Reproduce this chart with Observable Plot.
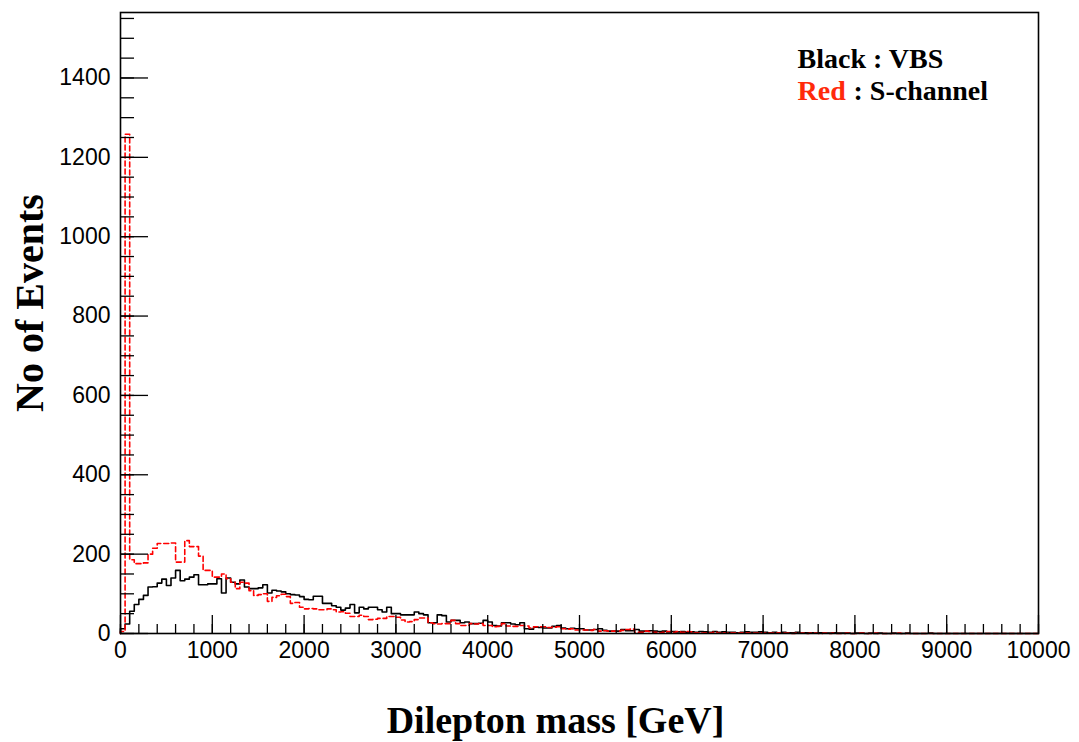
<!DOCTYPE html>
<html><head><meta charset="utf-8">
<script src="https://cdn.jsdelivr.net/npm/d3@7"></script>
<script src="https://cdn.jsdelivr.net/npm/@observablehq/plot@0.6"></script>
<style>html,body{margin:0;padding:0;background:#fff;}</style>
</head><body><div id="chart"></div>
<script>
// Histogram: 200 bins of 50 GeV from 0 to 10000 GeV
const binWidth = 50;
const vbs = [
  12,24,56,73,86,96,117,118,127,137,121,140,159,133,137,142,148,123,123,125,
  125,138,102,140,129,125,135,117,113,113,115,123,102,109,107,105,100,98,97,93,
  86,85,94,94,76,76,70,66,59,64,73,52,66,62,66,66,60,54,66,50,
  50,47,47,47,54,50,47,27,27,47,45,29,33,33,27,29,25,25,26,33,
  29,20,19,27,27,24,22,27,12,11,16,15,14,14,18,20,14,12,13,12,
  12,9,9,10,12,8,6,6,6,10,7,7,10,6,6,7,6,5,6,4,
  5,4,5,3,4,3,5,4,3,5,3,4,3,3,2,3,4,3,3,4,
  3,2,3,2,3,2,2,3,1,2,2,1,2,1,1,2,1,1,1,0,
  1,1,0,1,0,1,0,0,1,0,0,1,0,0,0,0,1,0,0,0,
  0,0,0,0,0,0,0,0,0,0,0,0,0,0,0,0,0,0,0,0
];
const schannel = [
  5,1258,186,176,176,178,200,215,227,227,227,228,180,180,234,219,219,195,159,159,
  142,142,150,138,129,113,129,127,108,96,98,100,81,91,95,99,93,76,78,66,
  62,63,62,60,60,62,60,54,55,51,43,43,46,43,35,36,38,38,43,43,
  41,34,29,30,35,39,39,27,25,24,25,25,33,25,20,20,25,24,25,20,
  20,17,18,25,19,18,18,20,19,14,17,17,17,15,16,17,12,11,12,9,
  9,9,8,10,6,7,6,6,6,8,10,11,3,3,6,5,3,2,3,5,
  3,5,3,5,4,2,1,2,2,3,1,2,1,2,1,2,2,1,1,2,
  1,1,1,2,1,1,0,1,1,0,1,1,0,1,0,1,0,0,1,0,
  0,1,0,0,1,0,0,0,0,1,0,0,0,0,0,0,0,0,0,0,
  0,0,0,0,0,0,0,0,0,0,0,0,0,0,0,0,0,0,0,0
];
const xTickLabels = [0,1000,2000,3000,4000,5000,6000,7000,8000,9000,10000];
const yTickLabels = [0,200,400,600,800,1000,1200,1400];
const xMinorTicks = d3.range(0, 10001, 200);
const yMinorTicks = d3.range(0, 1551, 50);
const xTitle = "Dilepton mass [GeV]";
const yTitle = "No of Events";

function steps(values) {
  const pts = [{x: 0, y: 0}];
  values.forEach((v, i) => pts.push({x: i * binWidth, y: v}));
  pts.push({x: values.length * binWidth, y: 0});
  return pts;
}

const sans = "Liberation Sans, Arial, Helvetica, sans-serif";
const serif = "Liberation Serif, Times New Roman, serif";

const chart = Plot.plot({
  width: 1079, height: 742,
  marginLeft: 120, marginRight: 41, marginTop: 12, marginBottom: 109,
  x: {domain: [0, 10000]},
  y: {domain: [0, 1565]},
  style: {background: "white", color: "black"},
  marks: [
    Plot.line(steps(vbs), {x: "x", y: "y", curve: "step-after", stroke: "black", strokeWidth: 1.6}),
    Plot.line(steps(schannel), {x: "x", y: "y", curve: "step-after", stroke: "#ff0000", strokeWidth: 1.6, strokeDasharray: "5,3"}),
    Plot.axisX(xMinorTicks, {tickSize: -9, tickFormat: () => "", label: null, strokeWidth: 1.3}),
    Plot.axisX(xTickLabels, {tickSize: -18, tickPadding: 26, tickFormat: "d", label: null, fontSize: 23, fontFamily: sans, strokeWidth: 1.3}),
    Plot.axisY(yMinorTicks, {tickSize: -14, tickFormat: () => "", label: null, strokeWidth: 1.3}),
    Plot.axisY(yTickLabels, {tickSize: -28, tickPadding: 38, tickFormat: "d", label: null, fontSize: 23, fontFamily: sans, strokeWidth: 1.3}),
    Plot.frame({stroke: "black", strokeWidth: 1.6}),
    Plot.text([xTitle], {frameAnchor: "bottom", dx: -24, dy: 87, fontSize: 38, fontWeight: "bold", fontFamily: serif, lineAnchor: "middle"}),
    Plot.text([yTitle], {frameAnchor: "left", rotate: -90, dx: -90, dy: -20, textAnchor: "middle", fontSize: 40, fontWeight: "bold", fontFamily: serif, lineAnchor: "middle"}),
    Plot.text(["Black : VBS"], {frameAnchor: "top-left", dx: 677, dy: 47, textAnchor: "start", lineAnchor: "middle", fontSize: 28, fontWeight: "bold", fontFamily: serif, fill: "black"}),
    Plot.text(["Red"], {frameAnchor: "top-left", dx: 677, dy: 79, textAnchor: "start", lineAnchor: "middle", fontSize: 28, fontWeight: "bold", fontFamily: serif, fill: "#ff2a0a"}),
    Plot.text([": S-channel"], {frameAnchor: "top-left", dx: 733, dy: 79, textAnchor: "start", lineAnchor: "middle", fontSize: 28, fontWeight: "bold", fontFamily: serif, fill: "black"})
  ]
});
document.getElementById("chart").appendChild(chart);
</script>
</body></html>
